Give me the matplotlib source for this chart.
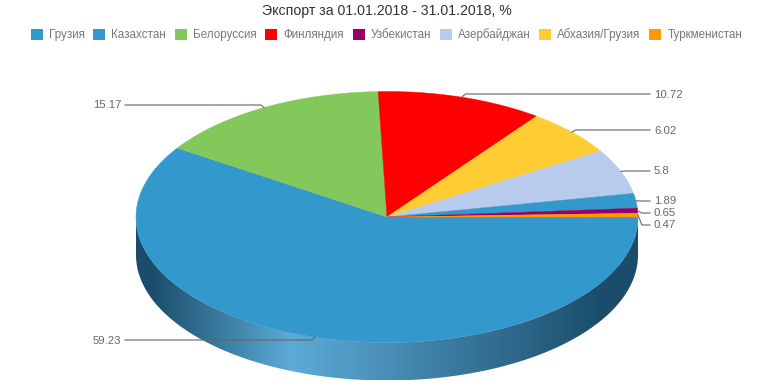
#!/usr/bin/env python3
# -*- coding: utf-8 -*-
import numpy as np
import matplotlib
matplotlib.use("Agg")
import matplotlib.pyplot as plt
from matplotlib.colors import LinearSegmentedColormap
from matplotlib.patches import Patch, Polygon

# Legend order
legend_names = ["Грузия", "Казахстан", "Белоруссия", "Финляндия", "Узбекистан",
                "Азербайджан", "Абхазия/Грузия", "Туркменистан"]
legend_colors = ["#3399cc", "#3399cc", "#82c85a", "#ff0000", "#990066",
                 "#b9cbec", "#ffcc33", "#ff9900"]

# Slices, clockwise from the right hand side
slice_names = ["Грузия", "Белоруссия", "Финляндия", "Абхазия/Грузия",
               "Азербайджан", "Казахстан", "Узбекистан", "Туркменистан"]
slice_values = [59.23, 15.17, 10.72, 6.02, 5.8, 1.89, 0.65, 0.47]

title = "Экспорт за 01.01.2018 - 31.01.2018, %"

plt.rcParams["font.family"] = ["Liberation Sans", "DejaVu Sans"]

W, H = 774, 387
CX, CY, RX, RY, DEPTH = 387, 217, 251, 125.5, 38

# y of each label, same order as the slices
label_y = [340, 105, 94, 130, 171, 201, 213, 225]

fig = plt.figure(figsize=(W / 100, H / 100), dpi=100)
ax = fig.add_axes([0, 0, 1, 1])
ax.set_xlim(0, W)
ax.set_ylim(H, 0)
ax.axis("off")


def punto(grados, dy=0):
    # grados se mide en sentido horario desde la derecha
    t = np.radians(grados)
    return CX + RX * np.cos(t), CY + RY * np.sin(t) + dy


# Side wall, only the front half of the ellipse
t = np.linspace(0, 180, 200)
x1, y1 = punto(t)
x2, y2 = punto(t[::-1], DEPTH)
wall = Polygon(np.column_stack([np.r_[x1, x2], np.r_[y1, y2]]), closed=True,
               fc="none", ec="none")
ax.add_patch(wall)
cmap = LinearSegmentedColormap.from_list(
    "pared", [(0, "#1b4d6b"), (0.03, "#1b4d6b"), (0.31, "#5cabd7"),
              (0.93, "#1b4d6b"), (1, "#1b4d6b")])
img = ax.imshow(np.linspace(0, 1, 512).reshape(1, -1), cmap=cmap, aspect="auto",
                extent=(CX - RX, CX + RX, CY + RY + DEPTH, CY), zorder=1)
img.set_clip_path(wall)
ax.set_xlim(0, W)
ax.set_ylim(H, 0)

# Top of the pie
total = sum(slice_values)
inicio = 0.0
angulos = []
for nombre, valor in zip(slice_names, slice_values):
    fin = inicio + valor / total * 360
    a = np.linspace(inicio, fin, 200)
    xs, ys = punto(a)
    color = legend_colors[legend_names.index(nombre)]
    ax.add_patch(Polygon(np.column_stack([np.r_[CX, xs], np.r_[CY, ys]]), closed=True,
                         fc=color, ec=color, lw=0.3, zorder=2))
    angulos.append((inicio + fin) / 2)
    inicio = fin

# Leader lines and labels
for valor, grados, y in zip(slice_values, angulos, label_y):
    xa, ya = punto(grados)
    if xa < CX:
        ax.plot([xa, xa - 3, 125], [ya, y, y], color="#666666", lw=0.8, zorder=3)
        ax.text(121.5, y + 0.5, str(valor), ha="right", va="center", fontsize=8.2,
                color="#666666", zorder=4)
    else:
        ax.plot([xa, xa + 4, 650], [ya, y, y], color="#666666", lw=0.8, zorder=3)
        ax.text(654, y + 0.5, str(valor), ha="left", va="center", fontsize=8.2,
                color="#666666", zorder=4)

ax.text(387, 11, title, ha="center", va="center", fontsize=10.15, color="#333333")

handles = [Patch(fc=c, ec="none", label=n) for n, c in zip(legend_names, legend_colors)]
fig.legend(handles=handles, loc="center", bbox_to_anchor=(386.5 / W, 1 - 34.8 / H), ncol=8,
           frameon=False, fontsize=8.35, labelcolor="#777777", handlelength=1.03,
           handleheight=1.03, handletextpad=0.52, columnspacing=0.76, borderpad=0)

fig.savefig("out.png", dpi=100)
